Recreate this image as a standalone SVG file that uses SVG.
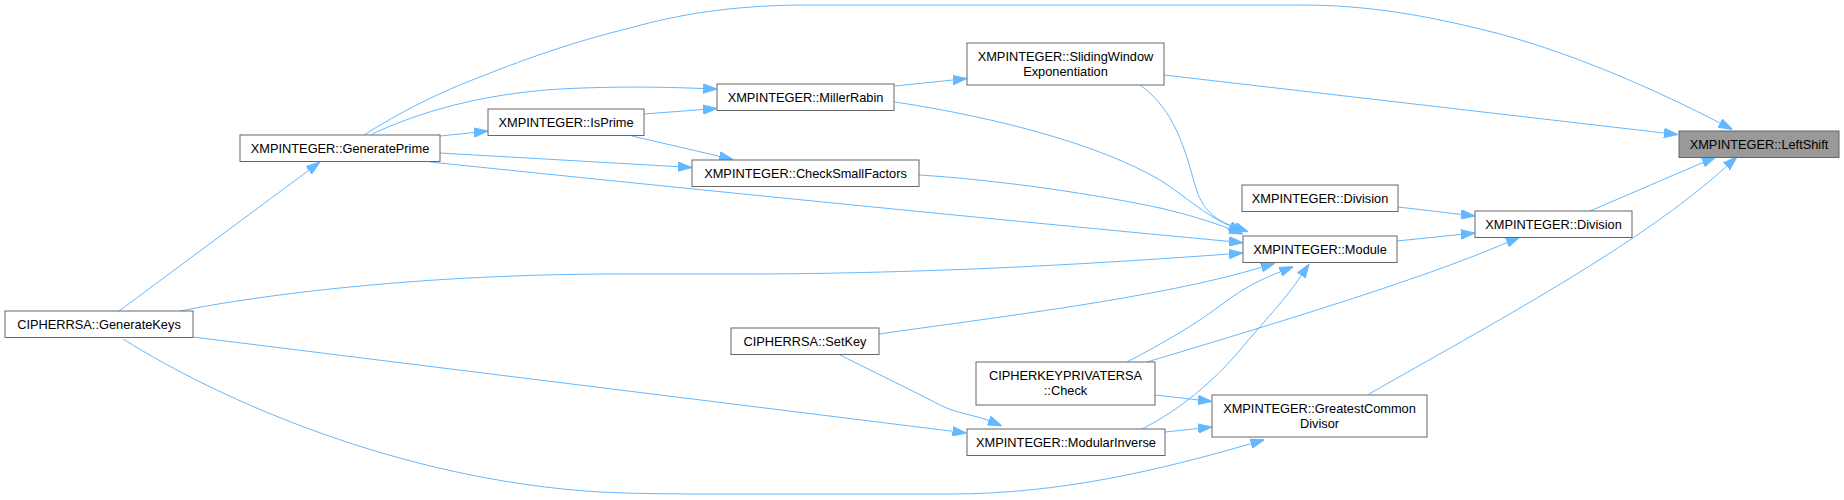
<svg xmlns="http://www.w3.org/2000/svg" width="1844" height="500" viewBox="0 0 1844 500">
<style>
.n rect{fill:#ffffff;stroke:#666666;stroke-width:1}
.n.hl rect{fill:#999999}
.n text{font-family:"Liberation Sans",Arial,sans-serif;font-size:12.8px;fill:#000000;text-anchor:middle}
#edges path{fill:none;stroke:#63b8ff;stroke-width:1;marker-end:url(#ah)}
</style>
<defs>
<marker id="ah" viewBox="0 0 14 10" refX="0" refY="5" markerWidth="14" markerHeight="10" markerUnits="userSpaceOnUse" orient="auto">
<path d="M0,0.3 L14,5 L0,9.7 Z" fill="#63b8ff" stroke="#63b8ff" stroke-width="1"/>
</marker>
</defs>
<rect x="0" y="0" width="1844" height="500" fill="#ffffff"/>
<g id="edges">
<path d="M364,135 C400,112 440,92 480,77 C530,57 580,40 630,28 C680,14 730,6 800,5 L1300,5 C1370,5 1430,16 1500,34 C1580,56 1660,92 1720,123"/>
<path d="M1164,75 L1664,133"/>
<path d="M1590,211 L1703,162.5"/>
<path d="M1369,394 C1490,325 1640,245 1726.6,166.3"/>
<path d="M1398,207 L1461,214.4"/>
<path d="M1397,241 L1461,234.4"/>
<path d="M1147,362 C1270,325 1420,280 1507,242.5"/>
<path d="M372,134 C420,112 480,94 560,89 C620,86 660,87 703,88.5"/>
<path d="M440,136 L474,132.5"/>
<path d="M440,153 L678,166.7"/>
<path d="M644,114 L703,109.5"/>
<path d="M632,136 L719.4,156.3"/>
<path d="M895,86 L953,80"/>
<path d="M119,311 L308.8,170.3"/>
<path d="M180,311 C260,295 420,274 620,274 L760,274 C950,273 1120,262 1229,254"/>
<path d="M193,337 L952.6,431.3"/>
<path d="M123,339 C220,400 400,480 600,492 C640,494 680,494 720,494 L950,494 C1060,494 1160,470 1250.9,443.7"/>
<path d="M840,355 C880,375 915,392 940,405 C958,414 975,415 988.8,420.6"/>
<path d="M879,334 C990,318 1160,298 1261.5,267.3"/>
<path d="M1127,362 C1165,342 1195,325 1225,302 C1248,285 1265,278 1280.4,271.8"/>
<path d="M1142,429 C1180,410 1215,380 1240,350 C1265,320 1285,300 1301.3,275.6"/>
<path d="M1155,395 L1198.1,399.9"/>
<path d="M1165,432 L1198.1,428.5"/>
<path d="M430,162 C700,190 1000,220 1229.1,241.4"/>
<path d="M919,175 C1000,180 1100,195 1160,208 C1190,215 1212,222 1230,229"/>
<path d="M895,102 C1000,118 1100,145 1160,180 C1185,196 1205,215 1230,226"/>
<path d="M1140,85 C1175,110 1185,150 1195,185 C1202,210 1215,220 1235,227"/>
</g>
<g id="n_leftshift" class="n hl"><rect x="1679" y="131" width="160" height="26.5"/><text x="1759" y="149">XMPINTEGER::LeftShift</text></g>
<g id="n_generateprime" class="n"><rect x="240" y="135" width="200" height="26.5"/><text x="340" y="153">XMPINTEGER::GeneratePrime</text></g>
<g id="n_isprime" class="n"><rect x="488" y="109" width="156" height="26.5"/><text x="566" y="127">XMPINTEGER::IsPrime</text></g>
<g id="n_millerrabin" class="n"><rect x="717" y="84" width="177" height="26.5"/><text x="805.5" y="102">XMPINTEGER::MillerRabin</text></g>
<g id="n_sliding" class="n"><rect x="967" y="43" width="197" height="42"/><text x="1065.5" y="61">XMPINTEGER::SlidingWindow</text><text x="1065.5" y="76">Exponentiation</text></g>
<g id="n_checksmall" class="n"><rect x="692" y="160" width="227" height="26.5"/><text x="805.5" y="178">XMPINTEGER::CheckSmallFactors</text></g>
<g id="n_division1" class="n"><rect x="1242" y="185" width="156" height="26.5"/><text x="1320" y="203">XMPINTEGER::Division</text></g>
<g id="n_division2" class="n"><rect x="1475" y="211" width="157" height="26.5"/><text x="1553.5" y="229">XMPINTEGER::Division</text></g>
<g id="n_module" class="n"><rect x="1243" y="236" width="154" height="26.5"/><text x="1320" y="254">XMPINTEGER::Module</text></g>
<g id="n_generatekeys" class="n"><rect x="5" y="311" width="188" height="26.5"/><text x="99" y="329">CIPHERRSA::GenerateKeys</text></g>
<g id="n_setkey" class="n"><rect x="731" y="328" width="148" height="26.5"/><text x="805" y="346">CIPHERRSA::SetKey</text></g>
<g id="n_check" class="n"><rect x="976" y="362" width="179" height="43"/><text x="1065.5" y="380">CIPHERKEYPRIVATERSA</text><text x="1065.5" y="395">::Check</text></g>
<g id="n_modinv" class="n"><rect x="967" y="429" width="198" height="26.5"/><text x="1066" y="447">XMPINTEGER::ModularInverse</text></g>
<g id="n_gcd" class="n"><rect x="1212" y="395" width="215" height="42"/><text x="1319.5" y="413">XMPINTEGER::GreatestCommon</text><text x="1319.5" y="428">Divisor</text></g>
</svg>
